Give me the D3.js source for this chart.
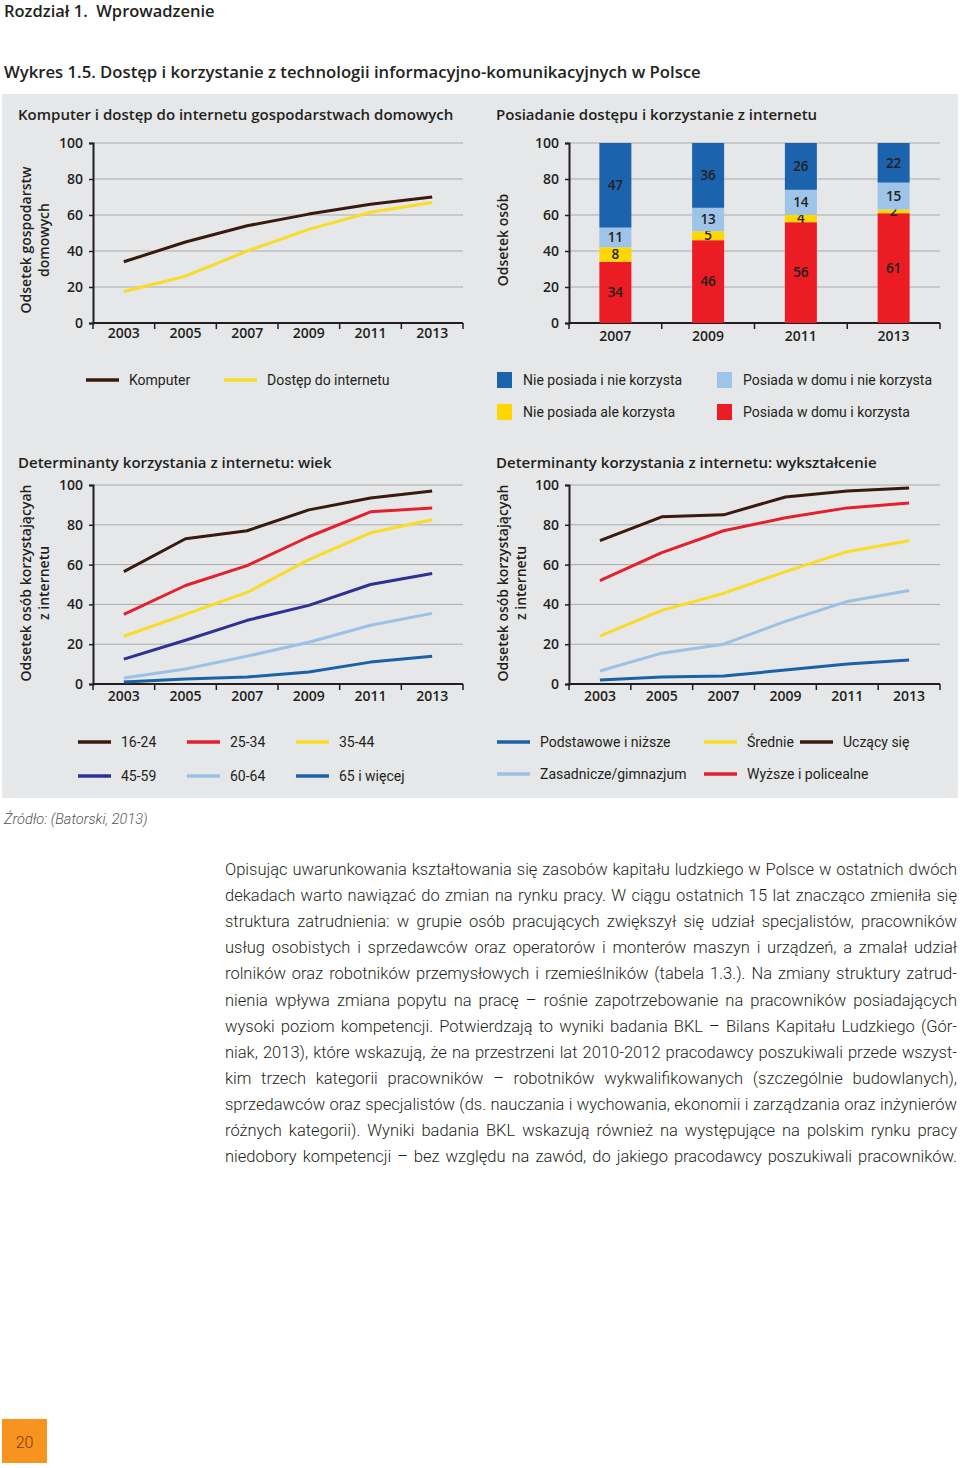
<!DOCTYPE html>
<html>
<head>
<meta charset="utf-8">
<script src="https://cdn.jsdelivr.net/npm/d3@7"></script>
<style>
  body { margin: 0; background: #fff; }
  #page { position: relative; width: 960px; height: 1468px; }
  svg { position: absolute; left: 0; top: 0; }
  .para { position: absolute; left: 225px; width: 732px; font-family: Roboto, sans-serif; font-weight: 300;
          font-size: 16.5px; color: #231f20; line-height: 26.1px; text-align: justify; text-align-last: justify; white-space: nowrap; }
</style>
</head>
<body>
<div id="page"></div>
<script>
// data
var years = [2003, 2005, 2007, 2009, 2011, 2013];
var komputer = [34, 45, 54, 60.5, 66, 70];
var internet = [17.5, 26, 40, 52, 61.5, 67];

var barYears = [2007, 2009, 2011, 2013];
var posiadaKorzysta = [34, 46, 56, 61];
var nieposiadaKorzysta = [8, 5, 4, 2];
var posiadaNieKorzysta = [11, 13, 14, 15];
var nieposiadaNieKorzysta = [47, 36, 26, 22];

var age1624 = [56.5, 73, 77, 87.5, 93.5, 97];
var age2534 = [35, 49.5, 59.5, 74, 86.5, 88.5];
var age3544 = [24, 35, 46, 62.5, 76, 82.5];
var age4559 = [12.5, 22, 32, 39.5, 50, 55.5];
var age6064 = [3, 7.5, 14, 21, 29.5, 35.5];
var age65 = [1, 2.5, 3.5, 6, 11, 14];

var uczacy = [72, 84, 85, 94, 97, 98.5];
var wyzsze = [52, 66, 77, 83.5, 88.5, 91];
var srednie = [24, 37, 45.5, 56.5, 66.5, 72];
var zasadnicze = [6.5, 15.5, 20, 31.5, 41.5, 47];
var podstawowe = [2, 3.5, 4, 7, 10, 12];

var yTicks = [0, 20, 40, 60, 80, 100];

var paragraph = [
  "Opisując uwarunkowania kształtowania się zasobów kapitału ludzkiego w Polsce w ostatnich dwóch",
  "dekadach warto nawiązać do zmian na rynku pracy. W ciągu ostatnich 15 lat znacząco zmieniła się",
  "struktura zatrudnienia: w grupie osób pracujących zwiększył się udział specjalistów, pracowników",
  "usług osobistych i sprzedawców oraz operatorów i monterów maszyn i urządzeń, a zmalał udział",
  "rolników oraz robotników przemysłowych i rzemieślników (tabela 1.3.). Na zmiany struktury zatrud-",
  "nienia wpływa zmiana popytu na pracę – rośnie zapotrzebowanie na pracowników posiadających",
  "wysoki poziom kompetencji. Potwierdzają to wyniki badania BKL – Bilans Kapitału Ludzkiego (Gór-",
  "niak, 2013), które wskazują, że na przestrzeni lat 2010-2012 pracodawcy poszukiwali przede wszyst-",
  "kim trzech kategorii pracowników – robotników wykwalifikowanych (szczególnie budowlanych),",
  "sprzedawców oraz specjalistów (ds. nauczania i wychowania, ekonomii i zarządzania oraz inżynierów",
  "różnych kategorii). Wyniki badania BKL wskazują również na występujące na polskim rynku pracy",
  "niedobory kompetencji – bez względu na zawód, do jakiego pracodawcy poszukiwali pracowników."
];

var C = {
  brown: "#3a1a0f", red: "#e3202e", yellow: "#f8dc26", navy: "#2e3192",
  light: "#9cc1e6", blue: "#1b62a5",
  barDark: "#1c63ad", barLight: "#9ec4e8", barYellow: "#fed700", barRed: "#ec1c24",
  ink: "#231f20", grid: "#a9abae", panel: "#e6e7e8"
};
var FONT = "'Open Sans', sans-serif";
var NARROW = "Roboto, sans-serif";

var page = d3.select("#page");
var svg = page.append("svg").attr("width", 960).attr("height", 1468);

// headings
svg.append("text").attr("x", 4).attr("y", 17).attr("font-family", FONT).attr("font-weight", 600)
  .attr("font-size", 16.5).attr("fill", C.ink).text("Rozdział 1.\u00a0 Wprowadzenie");
svg.append("text").attr("x", 4).attr("y", 78).attr("font-family", FONT).attr("font-weight", 600)
  .attr("font-size", 16.7).attr("fill", C.ink).text("Wykres 1.5. Dostęp i korzystanie z technologii informacyjno-komunikacyjnych w Polsce");

svg.append("rect").attr("x", 2).attr("y", 94).attr("width", 956).attr("height", 704).attr("fill", C.panel);

function title(x, y, t) {
  svg.append("text").attr("x", x).attr("y", y).attr("font-family", FONT).attr("font-weight", 600)
    .attr("font-size", 15).attr("fill", C.ink).text(t);
}
title(18, 120, "Komputer i dostęp do internetu gospodarstwach domowych");
title(496, 120, "Posiadanie dostępu i korzystanie z internetu");
title(18, 468, "Determinanty korzystania z internetu: wiek");
title(496, 468, "Determinanty korzystania z internetu: wykształcenie");

function yTitle(cx, cy, lines) {
  lines.forEach(function(l, i) {
    svg.append("text")
      .attr("transform", "translate(" + (cx + i * 18) + "," + cy + ") rotate(-90)")
      .attr("dy", "0.35em").attr("text-anchor", "middle")
      .attr("font-family", FONT).attr("font-weight", 600).attr("font-size", 14).attr("fill", C.ink)
      .text(l);
  });
}

// shared frame: gridlines, y axis, band x axis
function frame(x0, x1, yTop, yBot, cats, labelDy) {
  var x = d3.scaleBand().domain(cats).range([x0, x1]);
  var y = d3.scaleLinear().domain([0, 100]).range([yBot, yTop]);
  var g = svg.append("g");

  g.selectAll(".grid").data(yTicks.slice(1)).enter().append("line")
    .attr("x1", x0).attr("x2", x1)
    .attr("y1", function(d) { return y(d); }).attr("y2", function(d) { return y(d); })
    .attr("stroke", C.grid).attr("stroke-width", 1);

  var ya = g.append("g").attr("transform", "translate(" + x0 + ",0)")
    .call(d3.axisLeft(y).tickValues(yTicks).tickSize(4).tickPadding(6));
  ya.select(".domain").attr("stroke", C.ink).attr("stroke-width", 2);
  ya.selectAll(".tick line").attr("stroke", C.ink).attr("stroke-width", 1.5);
  ya.selectAll("text").attr("font-family", FONT).attr("font-weight", 600).attr("font-size", 14).attr("fill", C.ink);

  var xa = g.append("g").attr("transform", "translate(0," + yBot + ")");
  xa.append("line").attr("x1", x0).attr("x2", x1).attr("stroke", C.ink).attr("stroke-width", 2);
  var edges = cats.map(function(c) { return x(c); }).concat([x1]);
  xa.selectAll(".tk").data(edges).enter().append("line")
    .attr("x1", function(d) { return d; }).attr("x2", function(d) { return d; })
    .attr("y1", 0).attr("y2", 6).attr("stroke", C.ink).attr("stroke-width", 1.5);
  xa.selectAll(".lb").data(cats).enter().append("text")
    .attr("x", function(d) { return x(d) + x.bandwidth() / 2; })
    .attr("y", labelDy).attr("text-anchor", "middle")
    .attr("font-family", FONT).attr("font-weight", 600).attr("font-size", 14).attr("fill", C.ink)
    .text(function(d) { return d; });
  return { x: x, y: y };
}

function drawLines(sc, series) {
  var line = d3.line()
    .x(function(d, i) { return sc.x(years[i]) + sc.x.bandwidth() / 2; })
    .y(function(d) { return sc.y(d); });
  series.forEach(function(s) {
    svg.append("path").datum(s.values).attr("fill", "none").attr("stroke", s.color)
      .attr("stroke-width", 3).attr("stroke-linejoin", "round").attr("d", line);
  });
}

// chart 1
var s1 = frame(93, 463, 143, 323, years, 15);
yTitle(26, 240, ["Odsetek gospodarstw", "domowych"]);
drawLines(s1, [
  { values: komputer, color: C.brown },
  { values: internet, color: C.yellow }
]);

// chart 2 (stacked bars)
var s2 = frame(569, 940, 143, 323, barYears, 18);
yTitle(503, 240, ["Odsetek osób"]);
var stackKeys = [
  { values: posiadaKorzysta, color: C.barRed },
  { values: nieposiadaKorzysta, color: C.barYellow },
  { values: posiadaNieKorzysta, color: C.barLight },
  { values: nieposiadaNieKorzysta, color: C.barDark }
];
var barW = 32;
barYears.forEach(function(yr, i) {
  var base = 0;
  var cx = s2.x(yr) + s2.x.bandwidth() / 2;
  stackKeys.forEach(function(k) {
    var v = k.values[i];
    svg.append("rect").attr("x", cx - barW / 2).attr("width", barW)
      .attr("y", s2.y(base + v)).attr("height", s2.y(base) - s2.y(base + v)).attr("fill", k.color);
    svg.append("text").attr("x", cx).attr("y", s2.y(base + v / 2)).attr("dy", "0.35em")
      .attr("text-anchor", "middle").attr("font-family", FONT).attr("font-weight", 600)
      .attr("font-size", 13.5).attr("fill", C.ink).text(v);
    base += v;
  });
});

// chart 3 (age)
var s3 = frame(93, 463, 485, 684, years, 17);
yTitle(26, 583, ["Odsetek osób korzystającyah", "z internetu"]);
drawLines(s3, [
  { values: age65, color: C.blue },
  { values: age6064, color: C.light },
  { values: age4559, color: C.navy },
  { values: age3544, color: C.yellow },
  { values: age2534, color: C.red },
  { values: age1624, color: C.brown }
]);

// chart 4 (education)
var s4 = frame(569, 940, 485, 684, years, 17);
yTitle(503, 583, ["Odsetek osób korzystającyah", "z internetu"]);
drawLines(s4, [
  { values: podstawowe, color: C.blue },
  { values: zasadnicze, color: C.light },
  { values: srednie, color: C.yellow },
  { values: wyzsze, color: C.red },
  { values: uczacy, color: C.brown }
]);

// legends
function legLine(x, y, color, label) {
  svg.append("line").attr("x1", x).attr("x2", x + 33).attr("y1", y).attr("y2", y)
    .attr("stroke", color).attr("stroke-width", 3.5);
  svg.append("text").attr("x", x + 43).attr("y", y).attr("dy", "0.35em")
    .attr("font-family", NARROW).attr("font-size", 14).attr("fill", C.ink).text(label);
}
function legBox(x, y, color, label) {
  svg.append("rect").attr("x", x).attr("y", y - 8).attr("width", 15).attr("height", 16).attr("fill", color);
  svg.append("text").attr("x", x + 26).attr("y", y).attr("dy", "0.35em")
    .attr("font-family", NARROW).attr("font-size", 14).attr("fill", C.ink).text(label);
}
legLine(86, 380, C.brown, "Komputer");
legLine(224, 380, C.yellow, "Dostęp do internetu");
legBox(497, 380, C.barDark, "Nie posiada i nie korzysta");
legBox(717, 380, C.barLight, "Posiada w domu i nie korzysta");
legBox(497, 412, C.barYellow, "Nie posiada ale korzysta");
legBox(717, 412, C.barRed, "Posiada w domu i korzysta");

legLine(78, 742, C.brown, "16-24");
legLine(187, 742, C.red, "25-34");
legLine(296, 742, C.yellow, "35-44");
legLine(78, 776, C.navy, "45-59");
legLine(187, 776, C.light, "60-64");
legLine(296, 776, C.blue, "65 i więcej");
legLine(497, 742, C.blue, "Podstawowe i niższe");
legLine(704, 742, C.yellow, "Średnie");
legLine(800, 742, C.brown, "Uczący się");
legLine(497, 774, C.light, "Zasadnicze/gimnazjum");
legLine(704, 774, C.red, "Wyższe i policealne");

// source
svg.append("text").attr("x", 4).attr("y", 824).attr("font-family", NARROW).attr("font-style", "italic")
  .attr("font-weight", 300).attr("font-size", 14.5).attr("fill", "#555").text("Źródło: (Batorski, 2013)");

// body text
paragraph.forEach(function(l, i) {
  page.append("div").attr("class", "para").style("top", (857 + i * 26.1) + "px").text(l);
});

// page number
svg.append("rect").attr("x", 2).attr("y", 1419).attr("width", 45).attr("height", 44).attr("fill", "#f7931e");
svg.append("text").attr("x", 24.5).attr("y", 1442).attr("dy", "0.35em").attr("text-anchor", "middle")
  .attr("font-family", NARROW).attr("font-weight", 300).attr("font-size", 16).attr("fill", "#7a3a0c").text("20");
</script>
</body>
</html>
